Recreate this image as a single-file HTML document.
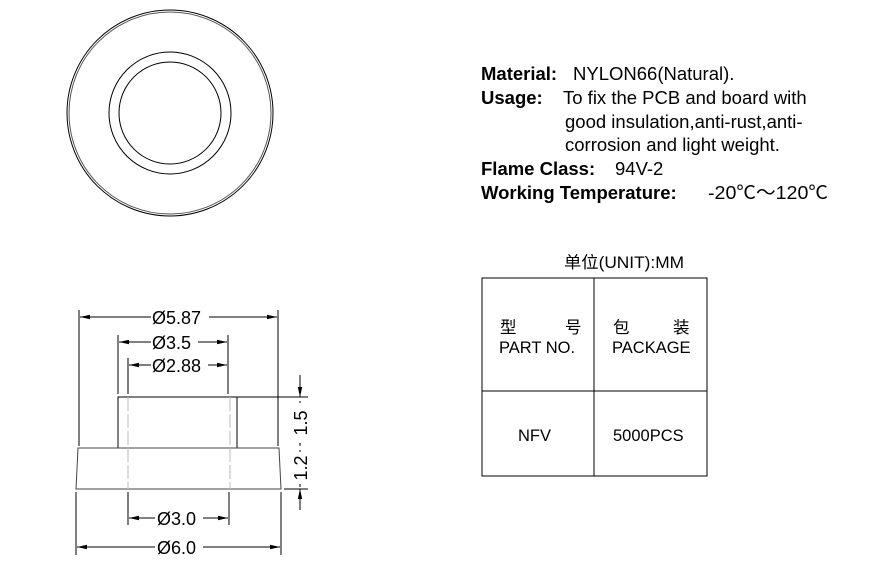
<!DOCTYPE html>
<html><head><meta charset="utf-8"><style>
html,body{margin:0;padding:0;background:#fff;width:872px;height:569px;overflow:hidden}
svg text{font-family:"Liberation Sans","Noto Sans CJK SC",sans-serif}
</style></head><body>
<svg width="872" height="569" viewBox="0 0 872 569" xmlns="http://www.w3.org/2000/svg">
<defs>
<marker id="a" viewBox="0 0 10 6" refX="10" refY="3" markerWidth="10" markerHeight="6" orient="auto-start-reverse" markerUnits="userSpaceOnUse"><path d="M0,0.8 L10,3 L0,5.2z" fill="#000"/></marker>
</defs>
<g fill="none" stroke="#000" stroke-width="1">
<circle cx="170" cy="113" r="103"/>
<circle cx="170" cy="113" r="101" stroke="#555"/>
<circle cx="170" cy="113" r="61"/>
<circle cx="170" cy="113" r="51"/>
<path d="M118,448 V397 H237 V448"/>
<path d="M78,448 H279 L281,489 H76 Z" stroke="#444"/>
<line x1="237" y1="397" x2="308" y2="397"/>
<line x1="284" y1="489" x2="308" y2="489"/>
<g stroke="#bbb" stroke-dasharray="14,3"><line x1="128" y1="397" x2="128" y2="489"/><line x1="230" y1="397" x2="230" y2="489"/></g>
<line x1="79" y1="310" x2="79" y2="446"/><line x1="278" y1="310" x2="278" y2="446"/>
<line x1="118" y1="335" x2="118" y2="394"/><line x1="228" y1="335" x2="228" y2="394"/>
<line x1="128" y1="358" x2="128" y2="394"/>
<line x1="128" y1="492" x2="128" y2="525"/><line x1="229" y1="492" x2="229" y2="525"/>
<line x1="76" y1="492" x2="76" y2="555"/><line x1="281" y1="492" x2="281" y2="555"/>
<line x1="80" y1="317" x2="151" y2="317" marker-start="url(#a)"/><line x1="209" y1="317" x2="277" y2="317" marker-end="url(#a)"/>
<line x1="119" y1="342" x2="151" y2="342" marker-start="url(#a)"/><line x1="198" y1="342" x2="227" y2="342" marker-end="url(#a)"/>
<line x1="129" y1="365" x2="151" y2="365" marker-start="url(#a)"/><line x1="208" y1="365" x2="227" y2="365" marker-end="url(#a)"/>
<line x1="129" y1="518" x2="155" y2="518" marker-start="url(#a)"/><line x1="203" y1="518" x2="228" y2="518" marker-end="url(#a)"/>
<line x1="77" y1="547" x2="155" y2="547" marker-start="url(#a)"/><line x1="203" y1="547" x2="280" y2="547" marker-end="url(#a)"/>
<line x1="300" y1="375" x2="300" y2="397" marker-end="url(#a)"/>
<line x1="300" y1="401" x2="300" y2="446" marker-start="url(#a)" marker-end="url(#a)"/>
<line x1="300" y1="450" x2="300" y2="487" marker-start="url(#a)" marker-end="url(#a)"/>
<line x1="300" y1="510" x2="300" y2="489" marker-end="url(#a)"/>
<rect x="482" y="278" width="225" height="198"/>
<line x1="594" y1="278" x2="594" y2="476"/><line x1="482" y1="391" x2="707" y2="391"/>
</g>
<g font-size="18" fill="#000">
<text x="152" y="324">Ø5.87</text>
<text x="152" y="349">Ø3.5</text>
<text x="152" y="372">Ø2.88</text>
<text x="157" y="525">Ø3.0</text>
<text x="157" y="554">Ø6.0</text>
<rect x="293" y="403" width="14" height="40" fill="#fff"/>
<rect x="293" y="452" width="14" height="32" fill="#fff"/>
<text transform="translate(307,423) rotate(-90)" text-anchor="middle">1.5</text>
<text transform="translate(307,468) rotate(-90)" text-anchor="middle">1.2</text>
</g>
<g font-size="18.5" fill="#000">
<text x="481" y="80"><tspan font-weight="bold">Material:</tspan><tspan x="573">NYLON66(Natural).</tspan></text>
<text x="481" y="104"><tspan font-weight="bold">Usage:</tspan><tspan x="563">To fix the PCB and board with</tspan></text>
<text x="565" y="128">good insulation,anti-rust,anti-</text>
<text x="565" y="151">corrosion and light weight.</text>
<text x="481" y="175"><tspan font-weight="bold">Flame Class:</tspan><tspan x="615">94V-2</tspan></text>
<text x="481" y="199"><tspan font-weight="bold">Working Temperature:</tspan><tspan x="708" textLength="120" lengthAdjust="spacingAndGlyphs">-20℃～120℃</tspan></text>
</g>
<g font-size="16.5" fill="#000">
<text x="564" y="268" textLength="120" lengthAdjust="spacingAndGlyphs">单位(UNIT):MM</text>
<text x="500" y="333">型</text><text x="565" y="333">号</text>
<text x="499" y="353">PART NO.</text>
<text x="613" y="333">包</text><text x="673" y="333">装</text>
<text x="612" y="353">PACKAGE</text>
<text x="518" y="441">NFV</text>
<text x="613" y="441">5000PCS</text>
</g>
</svg>
</body></html>
